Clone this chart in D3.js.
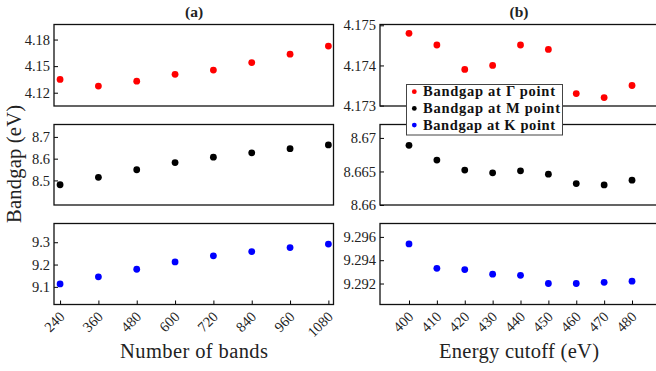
<!DOCTYPE html>
<html><head><meta charset="utf-8">
<script src="https://cdn.jsdelivr.net/npm/d3@7"></script>
<style>html,body{margin:0;padding:0;background:#fff;}svg{display:block;}</style>
</head><body>
<svg id="c" width="656" height="371"></svg>
<script>
// ---- data ----
const bands = [240, 360, 480, 600, 720, 840, 960, 1080];
const cutoffs = [400, 410, 420, 430, 440, 450, 460, 470, 480];
const gammaBands = [4.135, 4.1275, 4.133, 4.1407, 4.1455, 4.154, 4.1635, 4.1726];
const mBands = [8.480, 8.514, 8.549, 8.582, 8.607, 8.627, 8.646, 8.663];
const kBands = [9.113, 9.145, 9.179, 9.212, 9.239, 9.258, 9.276, 9.292];
const gammaCut = [4.17480, 4.17451, 4.17390, 4.17400, 4.17451, 4.17440, 4.17330, 4.17320, 4.17350];
const mCut = [8.6689, 8.6667, 8.6652, 8.6648, 8.6651, 8.6646, 8.6632, 8.6630, 8.6637];
const kCut = [9.2954, 9.2933, 9.2932, 9.2928, 9.2927, 9.2920, 9.2920, 9.2921, 9.2922];
const ticksGL = ["4.12", "4.15", "4.18"];
const ticksML = ["8.5", "8.6", "8.7"];
const ticksKL = ["9.1", "9.2", "9.3"];
const ticksGR = ["4.173", "4.174", "4.175"];
const ticksMR = ["8.66", "8.665", "8.67"];
const ticksKR = ["9.292", "9.294", "9.296"];
const legendLabels = ["Bandgap at \u0393 point", "Bandgap at M point", "Bandgap at K point"];
const colors = ["#ff0000", "#000000", "#0000ff"];

const svg = d3.select("#c");
const font = "Liberation Serif, DejaVu Serif, serif";

const rows = [[24.5, 106], [124.5, 205], [223.5, 304.5]];
const xL = d3.scaleLinear().domain([221, 1096]).range([54, 333.5]);
const xR = d3.scaleLinear().domain([389.6, 488.6]).range([380, 656]);

const panels = [
  {x: xL, xs: bands, ys: gammaBands, dom: [4.105, 4.197], ticks: ticksGL, row: 0, c: 0},
  {x: xL, xs: bands, ys: mBands, dom: [8.387, 8.757], ticks: ticksML, row: 1, c: 1},
  {x: xL, xs: bands, ys: kBands, dom: [9.021, 9.384], ticks: ticksKL, row: 2, c: 2},
  {x: xR, xs: cutoffs, ys: gammaCut, dom: [4.17299, 4.17502], ticks: ticksGR, row: 0, c: 0},
  {x: xR, xs: cutoffs, ys: mCut, dom: [8.66, 8.672], ticks: ticksMR, row: 1, c: 1},
  {x: xR, xs: cutoffs, ys: kCut, dom: [9.2902, 9.29715], ticks: ticksKR, row: 2, c: 2}
];

panels.forEach(p => {
  const [y0, y1] = rows[p.row];
  const y = d3.scaleLinear().domain(p.dom).range([y1, y0]);
  const [x0, x1] = p.x.range();
  const g = svg.append("g");
  const ya = d3.axisRight(y).tickValues(p.ticks.map(Number)).tickSize(4).tickFormat((d, i) => p.ticks[i]);
  const yg = g.append("g").attr("transform", `translate(${x0},0)`).call(ya);
  yg.attr("font-family", null).attr("font-size", null);
  yg.select(".domain").remove();
  yg.selectAll(".tick text").attr("x", -4).attr("text-anchor", "end")
    .style("font-family", font).style("font-size", "14.5px").attr("fill", "#222");
  yg.selectAll(".tick line").attr("stroke", "#000");
  if (p.row === 2) {
    const xa = d3.axisTop(p.x).tickValues(p.xs).tickSize(4).tickFormat(d3.format("d"));
    const xg = g.append("g").attr("transform", `translate(0,${y1})`).call(xa);
    xg.attr("font-family", null).attr("font-size", null);
    xg.select(".domain").remove();
    xg.selectAll(".tick line").attr("stroke", "#000");
    xg.selectAll(".tick text")
      .attr("y", 0).attr("dy", 0)
      .attr("text-anchor", "end")
      .attr("transform", "translate(5,13) rotate(-45)")
      .style("font-family", font).style("font-size", "14.5px").attr("fill", "#222");
  }
  g.append("rect").attr("x", x0).attr("y", y0).attr("width", x1 - x0 + (p.x === xR ? 4 : 0)).attr("height", y1 - y0)
    .attr("fill", "none").attr("stroke", "#111").attr("stroke-width", 1.3);
  g.selectAll("circle").data(p.xs).join("circle")
    .attr("cx", d => p.x(d)).attr("cy", (d, i) => y(p.ys[i])).attr("r", 3.4)
    .attr("fill", colors[p.c]);
});

function label(x, y, txt, size, bold, rot, len) {
  const t = svg.append("text").attr("text-anchor", "middle")
    .style("font-family", font).style("font-size", size + "px").attr("fill", "#222")
    .style("font-weight", bold ? "bold" : "normal").text(txt);
  t.attr("transform", `translate(${x},${y})` + (rot ? " rotate(-90)" : ""));
  if (len) t.attr("textLength", len).attr("lengthAdjust", "spacing");
  return t;
}
label(194, 17, "(a)", 15.5, true, false);
label(519, 17, "(b)", 15.5, true, false);
label(194, 358, "Number of bands", 20.5, false, false, 148);
label(519, 358, "Energy cutoff (eV)", 20.5, false, false, 160);
label(21, 164, "Bandgap (eV)", 20.5, false, true, 118);

const lg = svg.append("g");
lg.append("rect").attr("x", 406.5).attr("y", 84.5).attr("width", 156).attr("height", 50.5)
  .attr("fill", "#fff").attr("stroke", "#444").attr("stroke-width", 1);
legendLabels.forEach((t, i) => {
  const cy = 91.7 + i * 16.7;
  lg.append("circle").attr("cx", 414.3).attr("cy", cy).attr("r", 2.4).attr("fill", colors[i]);
  lg.append("text").attr("x", 423).attr("y", cy + 4.5).style("font-family", font).style("font-weight", "bold")
    .style("font-size", "14.5px").attr("fill", "#111")
    .attr("textLength", i === 1 ? 137 : 132).attr("lengthAdjust", "spacing").text(t);
});
</script>
</body></html>
